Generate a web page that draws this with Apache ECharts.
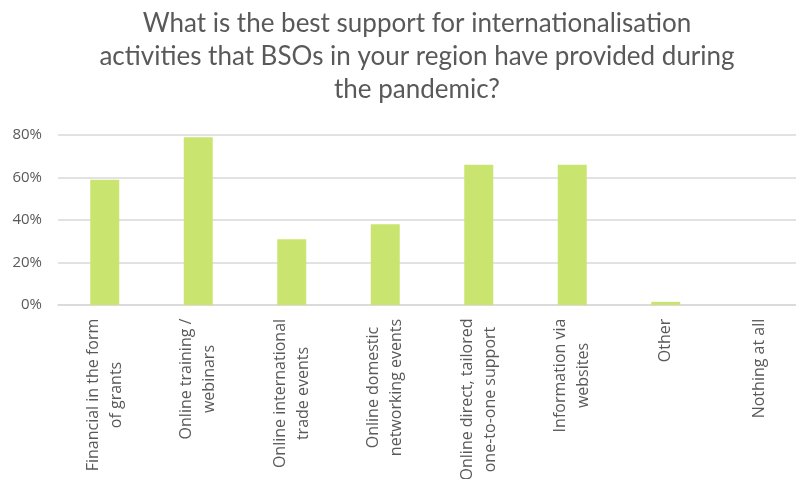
<!DOCTYPE html>
<html>
<head>
<meta charset="utf-8">
<script src="https://cdn.jsdelivr.net/npm/echarts@6/dist/echarts.min.js"></script>
<style>
  html, body { margin: 0; padding: 0; background: #fff; }
  #chart { width: 796px; height: 479px; }
</style>
</head>
<body>
<div id="chart"></div>
<script>
// Survey answers (share of respondents) per type of support
const categories = [
  'Financial in the form\nof grants',
  'Online training /\nwebinars',
  'Online international\ntrade events',
  'Online domestic\nnetworking events',
  'Online direct, tailored\none-to-one support',
  'Information via\nwebsites',
  'Other',
  'Nothing at all'
];
const shares = [0.59, 0.79, 0.31, 0.38, 0.66, 0.66, 0.015, 0];
const yTicks = [0, 0.2, 0.4, 0.6, 0.8];
const titleText = 'What is the best support for internationalisation\nactivities that BSOs in your region have provided during\nthe pandemic?';

const labelFont = '"Open Sans", sans-serif';
const labelSize = 16;
const grey = '#595959';

// Each category label is a block of lines centred on one another;
// the box width is the widest line so the block ends at the axis.
const ctx = document.createElement('canvas').getContext('2d');
ctx.font = labelSize + 'px ' + labelFont;
const rich = {};
categories.forEach((c, i) => {
  const w = Math.max(...c.split('\n').map(l => ctx.measureText(l).width));
  rich['c' + i] = {
    width: Math.ceil(w) + 1,
    align: 'center',
    fontFamily: labelFont,
    fontSize: labelSize,
    lineHeight: 23,
    color: grey
  };
});

const chart = echarts.init(document.getElementById('chart'));
chart.setOption({
  animation: false,
  backgroundColor: '#ffffff',
  title: {
    text: titleText,
    left: 412,
    top: 2,
    textAlign: 'center',
    textStyle: {
      fontFamily: 'Lato, sans-serif',
      fontSize: 26,
      fontWeight: 'normal',
      color: grey,
      lineHeight: 33
    }
  },
  grid: {
    left: 58, right: -10, top: 135, bottom: 174,
    containLabel: false,
    outerBoundsMode: 'none'
  },
  xAxis: {
    type: 'category',
    data: categories,
    axisLine: { show: true, lineStyle: { color: '#d9d9d9', width: 1.5 } },
    axisTick: { show: false },
    axisLabel: {
      interval: 0,
      rotate: 90,
      margin: 13,
      formatter: (value, index) =>
        value.split('\n').map(l => '{c' + index + '|' + l + '}').join('\n'),
      rich: rich
    }
  },
  yAxis: {
    type: 'value',
    min: yTicks[0],
    max: yTicks[yTicks.length - 1],
    interval: 0.2,
    axisLine: { show: false },
    axisTick: { show: false },
    splitLine: { lineStyle: { color: '#d9d9d9', width: 1.5 } },
    axisLabel: {
      margin: 16,
      color: grey,
      fontFamily: labelFont,
      fontSize: 15,
      formatter: v => Math.round(v * 100) + '%'
    }
  },
  series: [{
    type: 'bar',
    data: shares,
    barWidth: 29,
    itemStyle: { color: '#c9e46f' }
  }]
});
</script>
</body>
</html>
